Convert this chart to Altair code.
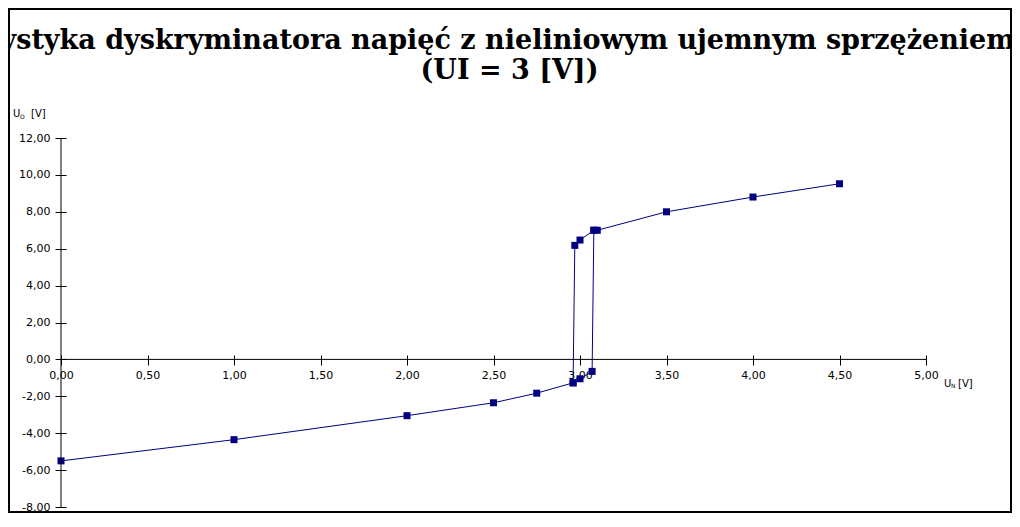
import altair as alt
import pandas as pd

# ---- data ----
# rising sweep of the characteristic
x_rise = [0.00, 1.00, 2.00, 2.50, 2.75, 2.96, 3.00, 3.07, 3.08, 3.10, 3.50, 4.00, 4.50]
y_rise = [-5.50, -4.35, -3.05, -2.35, -1.83, -1.27, -1.05, -0.65, 7.00, 7.00, 8.00, 8.80, 9.52]
# falling sweep (hysteresis branch)
x_fall = [3.08, 3.00, 2.97, 2.96]
y_fall = [7.00, 6.47, 6.18, -1.27]

x_ticks = [0.0, 0.5, 1.0, 1.5, 2.0, 2.5, 3.0, 3.5, 4.0, 4.5, 5.0]
y_ticks = [-8, -6, -4, -2, 0, 2, 4, 6, 8, 10, 12]
x_domain = [0, 5]
y_domain = [-8, 12]

title_lines = [
    "Charakterystyka dyskryminatora napięć z nieliniowym ujemnym sprzężeniem zwrotnym",
    "(UI = 3 [V])",
]

NAVY = "#000080"
W, H = 865, 369

rows = []
for i, (x, y) in enumerate(zip(x_rise, y_rise)):
    rows.append({"un": x, "uo": y, "branch": "rise", "seq": i})
for i, (x, y) in enumerate(zip(x_fall, y_fall)):
    rows.append({"un": x, "uo": y, "branch": "fall", "seq": i})
df = pd.DataFrame(rows)

num_expr = "(datum.value < 0 ? '-' : '') + replace(format(abs(datum.value), '.2f'), '.', ',')"

xscale = alt.Scale(domain=x_domain, nice=False, zero=False)
yscale = alt.Scale(domain=y_domain, nice=False, zero=False)

x_axis = alt.Axis(
    values=x_ticks, labelExpr=num_expr, title=None, grid=False, domain=False,
    orient="bottom", offset=-152, tickSize=10, tickColor="black", tickWidth=1,
    labelFont="DejaVu Sans", labelFontSize=11, labelColor="black",
    labelPadding=4, labelFlush=False, labelOverlap=False,
)
y_axis = alt.Axis(
    values=y_ticks, labelExpr=num_expr, title=None, grid=False, domain=False,
    orient="left", offset=-5, tickSize=11, tickColor="black", tickWidth=1,
    labelFont="DejaVu Sans", labelFontSize=11, labelColor="black",
    labelPadding=5, labelFlush=False, labelOverlap=False,
)

base = alt.Chart(df)

line = base.mark_line(color=NAVY, strokeWidth=1).encode(
    x=alt.X("un:Q", scale=xscale, axis=x_axis),
    y=alt.Y("uo:Q", scale=yscale, axis=y_axis),
    detail="branch:N",
    order="seq:Q",
)
points = base.mark_point(shape="square", filled=True, size=49, color=NAVY, opacity=1).encode(
    x=alt.X("un:Q", scale=xscale, axis=x_axis),
    y=alt.Y("uo:Q", scale=yscale, axis=y_axis),
)

one = pd.DataFrame({"k": [0]})
x_line = alt.Chart(one).mark_rule(color="black", strokeWidth=1).encode(
    x=alt.XDatum(x_domain[0], scale=xscale, axis=x_axis),
    x2=alt.X2Datum(x_domain[1]),
    y=alt.YDatum(0, scale=yscale, axis=y_axis),
)
y_line = alt.Chart(one).mark_rule(color="black", strokeWidth=1).encode(
    x=alt.XDatum(0, scale=xscale, axis=x_axis),
    y=alt.YDatum(y_domain[0], scale=yscale, axis=y_axis),
    y2=alt.Y2Datum(y_domain[1]),
)

def label(txt, px, py, size):
    return alt.Chart(one).mark_text(
        font="DejaVu Sans", fontSize=size, color="black", align="left", baseline="alphabetic"
    ).encode(x=alt.value(px), y=alt.value(py), text=alt.value(txt))

labels = [
    label("U", -48, -21, 10), label("O", -41, -19, 6), label("[V]", -30, -21, 10),
    label("U", 883, 249, 10), label("N", 890, 250, 6), label("[V]", 897, 249, 10),
]

frame = alt.Chart(one).mark_rect(fill=None, stroke="black", strokeWidth=2).encode(
    x=alt.value(-52), x2=alt.value(950), y=alt.value(-129), y2=alt.value(374)
)

chart = alt.layer(line, points, x_line, y_line, frame, *labels).properties(
    width=W,
    height=H,
    autosize=alt.AutoSizeParams(type="none"),
    padding={"left": 53, "top": 130, "right": 86, "bottom": 6},
    title=alt.TitleParams(
        text=title_lines, font="DejaVu Serif", fontSize=27, fontWeight="bold",
        color="black", anchor="middle", frame="group", offset=0, dx=16, dy=77,
        lineHeight=30,
    ),
).configure(background="white").configure_view(stroke=None)

chart.save("out.html", embed_options={"renderer": "svg", "actions": False})
